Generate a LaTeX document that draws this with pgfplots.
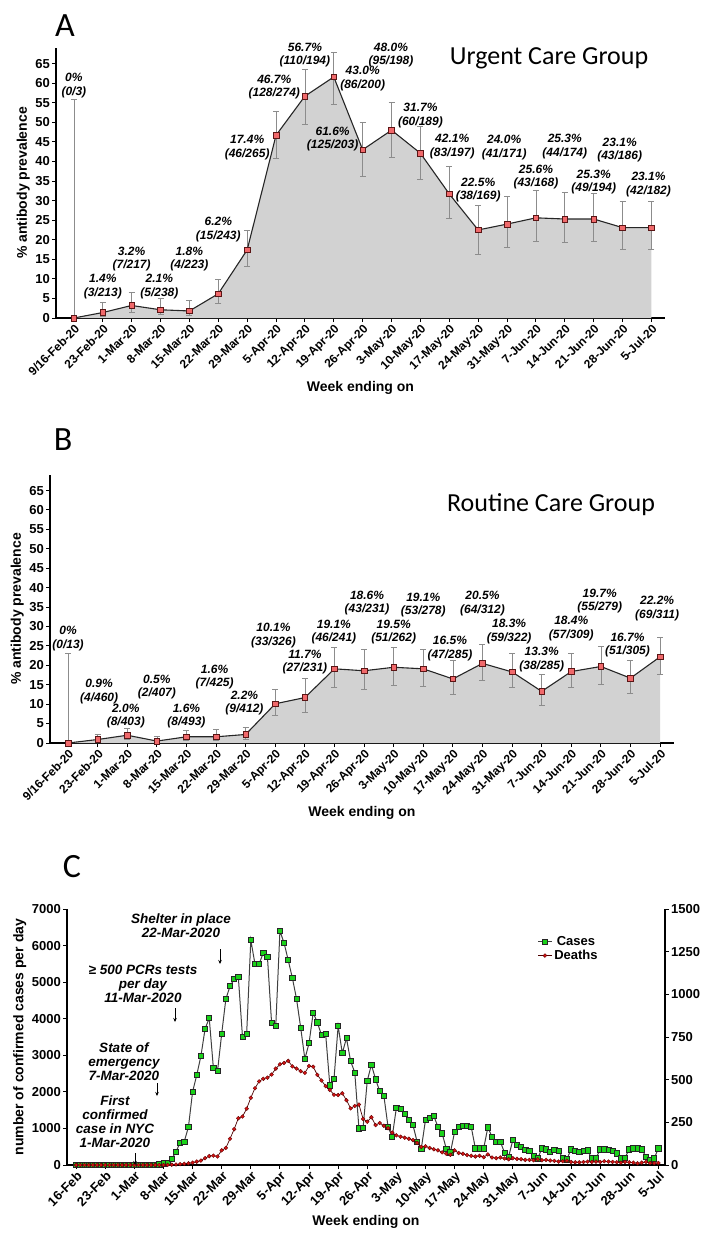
\documentclass[border=0pt]{standalone}
\usepackage{pgfplots}
\pgfplotsset{compat=1.18}
\usepackage{pgfplotstable}
\usetikzlibrary{arrows.meta}
\usepackage{fontspec}
\setmainfont{Liberation Sans}
\newfontfamily\carlito{Carlito}
\definecolor{areagray}{HTML}{D2D2D2}
\definecolor{errgray}{HTML}{8C8C8C}
\definecolor{markred}{HTML}{F0696B}
\definecolor{markedge}{HTML}{5A1515}
\definecolor{casegreen}{HTML}{19D219}
\definecolor{deathred}{HTML}{D41414}

\pgfplotstableread{
x y lo hi
0 0 0 56
1 1.4 0.4 4.0
2 3.2 1.5 6.5
3 2.1 0.9 5.0
4 1.8 0.7 4.5
5 6.2 3.8 10.0
6 17.4 13.3 22.3
7 46.7 40.9 52.7
8 56.7 49.6 63.5
9 61.6 54.7 68.0
10 43.0 36.3 50.0
11 48.0 41.0 55.0
12 42.1 35.4 49.1
13 31.7 25.5 38.7
14 22.5 16.3 28.7
15 24.0 18.1 31.0
16 25.6 19.5 32.7
17 25.3 19.3 32.2
18 25.3 19.7 31.8
19 23.1 17.6 29.7
20 23.1 17.5 29.7
}\tabA

\pgfplotstableread{
x y lo hi
0 0 0 23
1 0.9 0.2 2.2
2 2.0 0.9 3.9
3 0.5 0.1 1.8
4 1.6 0.7 3.2
5 1.6 0.8 3.4
6 2.2 1.0 4.1
7 10.1 7.1 13.9
8 11.7 7.9 16.6
9 19.1 14.4 24.6
10 18.6 13.8 24.2
11 19.5 14.9 24.7
12 19.1 14.7 24.1
13 16.5 12.4 21.3
14 20.5 16.2 25.4
15 18.3 14.3 23.0
16 13.3 9.6 17.8
17 18.4 14.3 23.2
18 19.7 15.2 24.8
19 16.7 12.8 21.3
20 22.2 17.7 27.2
}\tabB

\pgfplotstableread{
d c k
0 0 0
1 0 0
2 0 0
3 0 0
4 0 0
5 0 0
6 0 0
7 0 0
8 0 0
9 0 0
10 0 0
11 0 0
12 0 0
13 0 0
14 0 0
15 0 0
16 0 0
17 0 0
18 0 0
19 5 0
20 20 0
21 45 0
22 70 1
23 170 2
24 360 3
25 610 5
26 640 7
27 1040 10
28 2000 14
29 2460 20
30 2980 26
31 3720 40
32 4020 52
33 2650 55
34 2570 50
35 3590 86
36 4540 100
37 4890 154
38 5080 210
39 5140 274
40 3500 284
41 3580 330
42 6150 394
43 5500 450
44 5500 490
45 5800 505
46 5690 512
47 3880 530
48 3800 565
49 6400 590
50 6070 598
51 5600 610
52 5110 578
53 4540 565
54 3750 550
55 2900 540
56 3330 580
57 4160 576
58 3900 528
59 3550 495
60 3580 462
61 2180 440
62 2350 412
63 3800 410
64 3060 420
65 3470 380
66 2840 332
67 2530 346
68 1000 354
69 1020 270
70 2300 254
71 2745 280
72 2345 234
73 2020 246
74 1890 230
75 1045 216
76 770 190
77 1560 174
78 1530 166
79 1390 160
80 1245 154
81 1090 146
82 630 130
83 450 106
84 1230 110
85 1300 100
86 1340 92
87 1045 86
88 865 74
89 450 66
90 345 60
91 900 86
92 1045 70
93 1070 66
94 1065 58
95 1045 54
96 455 50
97 455 54
98 455 46
99 1030 62
100 770 44
101 640 40
102 640 44
103 340 38
104 230 34
105 680 40
106 545 36
107 500 34
108 410 30
109 380 30
110 245 28
111 180 34
112 455 28
113 430 30
114 365 26
115 410 24
116 380 20
117 200 22
118 155 26
119 430 18
120 390 16
121 365 16
122 390 18
123 400 20
124 180 18
125 180 20
126 430 18
127 430 22
128 410 20
129 390 18
130 320 16
131 180 14
132 200 18
133 430 16
134 455 14
135 455 10
136 430 14
137 230 18
138 135 12
139 180 10
140 455 12
}\tabC

\tikzset{
  lbl/.style={font=\bfseries\itshape\fontsize{12}{13.5}\selectfont, align=center, inner sep=0pt},
  ann/.style={font=\bfseries\itshape\fontsize{13.5}{14}\selectfont, align=center, inner sep=0pt},
}
\pgfplotsset{
  panel/.style={
    scale only axis,
    axis lines=left,
    axis line style={-, line width=1.3pt},
    tick style={line width=1pt, black},
    major tick length=4pt,
    tick align=outside,
    ymin=0, ymax=69,
    ytick={0,5,...,65},
    xtick={0,...,20},
    xticklabels={9/16-Feb-20,23-Feb-20,1-Mar-20,8-Mar-20,15-Mar-20,22-Mar-20,29-Mar-20,5-Apr-20,12-Apr-20,19-Apr-20,26-Apr-20,3-May-20,10-May-20,17-May-20,24-May-20,31-May-20,7-Jun-20,14-Jun-20,21-Jun-20,28-Jun-20,5-Jul-20},
    xticklabel style={rotate=45, anchor=north east, inner sep=1pt, font=\bfseries\fontsize{12}{12}\selectfont},
    yticklabel style={font=\bfseries\fontsize{13}{13}\selectfont, inner sep=2pt},
    /pgf/number format/assume math mode=true,
    xlabel={Week ending on},
    ylabel={\% antibody prevalence},
    label style={font=\bfseries\fontsize{14}{14}\selectfont},
    clip=false,
  },
  errsty/.style={only marks, mark=none, forget plot,
    error bars/.cd, y dir=both, y explicit,
    error bar style={errgray, line width=0.7pt},
    error mark options={rotate=90, errgray, mark size=3pt, line width=0.7pt}},
  linesty/.style={black!85, line width=1.1pt, mark=square*, mark size=2.8pt,
    mark options={fill=markred, draw=markedge, line width=0.6pt}},
  casesty/.style={black!75, line width=1pt, mark=square*, mark size=2.6pt,
    mark options={fill=casegreen, draw=black!85, line width=0.7pt}},
  deathsty/.style={black!70!red, line width=0.7pt, mark=*, mark size=1.9pt,
    mark options={fill=deathred, draw=black!60!red, line width=0.4pt}},
}
\newcommand{\lab}[4]{\node[lbl] at (axis cs:#1,#2) {#3\\#4};}

\begin{document}
\begin{tikzpicture}
\useasboundingbox (0,0) rectangle (704pt,-1250pt);

% ---------------- Panel A ----------------
\begin{axis}[panel, at={(56pt,-318pt)}, anchor=south west,
  width=609pt, height=270pt, xmin=-0.62, xmax=20.47]
\addplot[fill=areagray, draw=none] table[x=x,y=y] {\tabA} \closedcycle;
\addplot[errsty] table[x=x, y=y, y error plus expr=\thisrow{hi}-\thisrow{y}, y error minus expr=\thisrow{y}-\thisrow{lo}] {\tabA};
\addplot[linesty] table[x=x,y=y] {\tabA};
\lab{0}{59.4}{0\%}{(0/3)}
\lab{1.0}{8.0}{1.4\%}{(3/213)}
\lab{2.0}{15.05}{3.2\%}{(7/217)}
\lab{2.96}{8.0}{2.1\%}{(5/238)}
\lab{4.0}{15.05}{1.8\%}{(4/223)}
\lab{5.0}{22.6}{6.2\%}{(15/243)}
\lab{6.0}{43.5}{17.4\%}{(46/265)}
\lab{6.94}{59.0}{46.7\%}{(128/274)}
\lab{8.0}{67.15}{56.7\%}{(110/194)}
\lab{8.96}{45.7}{61.6\%}{(125/203)}
\lab{10.0}{61.2}{43.0\%}{(86/200)}
\lab{10.98}{67.15}{48.0\%}{(95/198)}
\lab{12.0}{51.7}{31.7\%}{(60/189)}
\lab{13.1}{43.8}{42.1\%}{(83/197)}
\lab{14.0}{32.7}{22.5\%}{(38/169)}
\lab{14.9}{43.6}{24.0\%}{(41/171)}
\lab{16.0}{36.0}{25.6\%}{(43/168)}
\lab{17.0}{43.8}{25.3\%}{(44/174)}
\lab{18.0}{34.8}{25.3\%}{(49/194)}
\lab{18.9}{42.9}{23.1\%}{(43/186)}
\lab{19.9}{34.1}{23.1\%}{(42/182)}
\end{axis}

% ---------------- Panel B ----------------
\begin{axis}[panel, at={(50pt,-743pt)}, anchor=south west,
  width=624pt, height=268pt, xmin=-0.61, xmax=20.47]
\addplot[fill=areagray, draw=none] table[x=x,y=y] {\tabB} \closedcycle;
\addplot[errsty] table[x=x, y=y, y error plus expr=\thisrow{hi}-\thisrow{y}, y error minus expr=\thisrow{y}-\thisrow{lo}] {\tabB};
\addplot[linesty] table[x=x,y=y] {\tabB};
\lab{0}{26.9}{0\%}{(0/13)}
\lab{1.05}{13.3}{0.9\%}{(4/460)}
\lab{1.95}{7.0}{2.0\%}{(8/403)}
\lab{3.0}{14.4}{0.5\%}{(2/407)}
\lab{4.0}{7.0}{1.6\%}{(8/493)}
\lab{4.95}{17.0}{1.6\%}{(7/425)}
\lab{5.96}{10.25}{2.2\%}{(9/412)}
\lab{6.94}{27.7}{10.1\%}{(33/326)}
\lab{8.0}{20.85}{11.7\%}{(27/231)}
\lab{8.98}{28.55}{19.1\%}{(46/241)}
\lab{10.1}{36.05}{18.6\%}{(43/231)}
\lab{11.0}{28.55}{19.5\%}{(51/262)}
\lab{12.0}{35.55}{19.1\%}{(53/278)}
\lab{12.9}{24.3}{16.5\%}{(47/285)}
\lab{14.0}{35.95}{20.5\%}{(64/312)}
\lab{14.9}{28.75}{18.3\%}{(59/322)}
\lab{16.0}{21.45}{13.3\%}{(38/285)}
\lab{17.0}{29.5}{18.4\%}{(57/309)}
\lab{17.96}{36.6}{19.7\%}{(55/279)}
\lab{18.9}{25.2}{16.7\%}{(51/305)}
\lab{19.9}{34.6}{22.2\%}{(69/311)}
\end{axis}

% ---------------- Panel C ----------------
\begin{axis}[scale only axis, at={(67pt,-1165pt)}, anchor=south west,
  width=598pt, height=256pt, xmin=-2.2, xmax=141.6, ymin=0, ymax=7000,
  axis x line*=bottom, axis y line*=left,
  axis line style={-, line width=1.3pt},
  tick style={line width=1pt, black}, major tick length=4pt, tick align=outside,
  ytick={0,1000,...,7000},
  xtick={0,7,...,140},
  xticklabels={16-Feb,23-Feb,1-Mar,8-Mar,15-Mar,22-Mar,29-Mar,5-Apr,12-Apr,19-Apr,26-Apr,3-May,10-May,17-May,24-May,31-May,7-Jun,14-Jun,21-Jun,28-Jun,5-Jul},
  xticklabel style={rotate=45, anchor=north east, inner sep=1pt, font=\bfseries\fontsize{13}{13}\selectfont},
  yticklabel style={font=\bfseries\fontsize{13}{13}\selectfont, inner sep=2pt},
  /pgf/number format/assume math mode=true,
  scaled y ticks=false,
  /pgf/number format/.cd, 1000 sep={}, /pgfplots/.cd,
  xlabel={Week ending on},
  xlabel style={font=\bfseries\fontsize{14}{14}\selectfont},
  ylabel={number of confirmed cases per day},
  ylabel style={font=\bfseries\fontsize{14}{14}\selectfont},
  clip=false,
  legend style={draw=none, fill=none, at={(0.785,0.905)}, anchor=north west,
    font=\bfseries\fontsize{13}{13}\selectfont, row sep=-1pt, inner sep=1pt},
  legend image code/.code={\draw[mark repeat=2,mark phase=2] plot coordinates {(0cm,0cm) (0.24cm,0cm) (0.48cm,0cm)};},
]
\addplot[casesty] table[x=d,y=c] {\tabC};
\addlegendentry{Cases}
\addlegendimage{deathsty}
\addlegendentry{Deaths}
\end{axis}
\begin{axis}[scale only axis, at={(67pt,-1165pt)}, anchor=south west,
  width=598pt, height=256pt, xmin=-2.2, xmax=141.6, ymin=0, ymax=1500,
  axis x line=none, axis y line*=right,
  axis line style={-, line width=1.3pt},
  tick style={line width=1pt, black}, major tick length=4pt, tick align=outside,
  ytick={0,250,...,1500},
  yticklabel style={font=\bfseries\fontsize{13}{13}\selectfont, inner sep=2pt},
  /pgf/number format/assume math mode=true,
  /pgf/number format/.cd, 1000 sep={}, /pgfplots/.cd,
  clip=false,
]
\addplot[deathsty] table[x=d,y=k] {\tabC};
\end{axis}

% annotations panel C
\node[ann] at (181pt,-926pt) {Shelter in place\\22-Mar-2020};
\draw[-{Stealth[length=4pt,width=3.5pt]}, line width=0.8pt] (220pt,-949pt) -- (220pt,-964pt);
\node[ann] at (143pt,-984pt) {≥ 500 PCRs tests\\per day\\11-Mar-2020};
\draw[-{Stealth[length=4pt,width=3.5pt]}, line width=0.8pt] (175pt,-1008pt) -- (175pt,-1022pt);
\node[ann] at (124pt,-1062pt) {State of\\emergency\\7-Mar-2020};
\draw[-{Stealth[length=4pt,width=3.5pt]}, line width=0.8pt] (157pt,-1083pt) -- (157pt,-1096pt);
\node[ann] at (115pt,-1122pt) {First\\confirmed\\case in NYC\\1-Mar-2020};
\draw[-{Stealth[length=4pt,width=3.5pt]}, line width=0.8pt] (135pt,-1153pt) -- (135pt,-1165pt);

% panel letters and titles
\node[font=\carlito\fontsize{34}{34}\selectfont] at (65pt,-26pt) {A};
\node[font=\carlito\fontsize{34}{34}\selectfont] at (63pt,-440pt) {B};
\node[font=\carlito\fontsize{34}{34}\selectfont] at (72pt,-867pt) {C};
\node[font=\carlito\fontsize{26}{26}\selectfont] at (549pt,-58pt) {Urgent Care Group};
\node[font=\carlito\fontsize{26}{26}\selectfont] at (551pt,-505pt) {Routine Care Group};
\end{tikzpicture}
\end{document}
